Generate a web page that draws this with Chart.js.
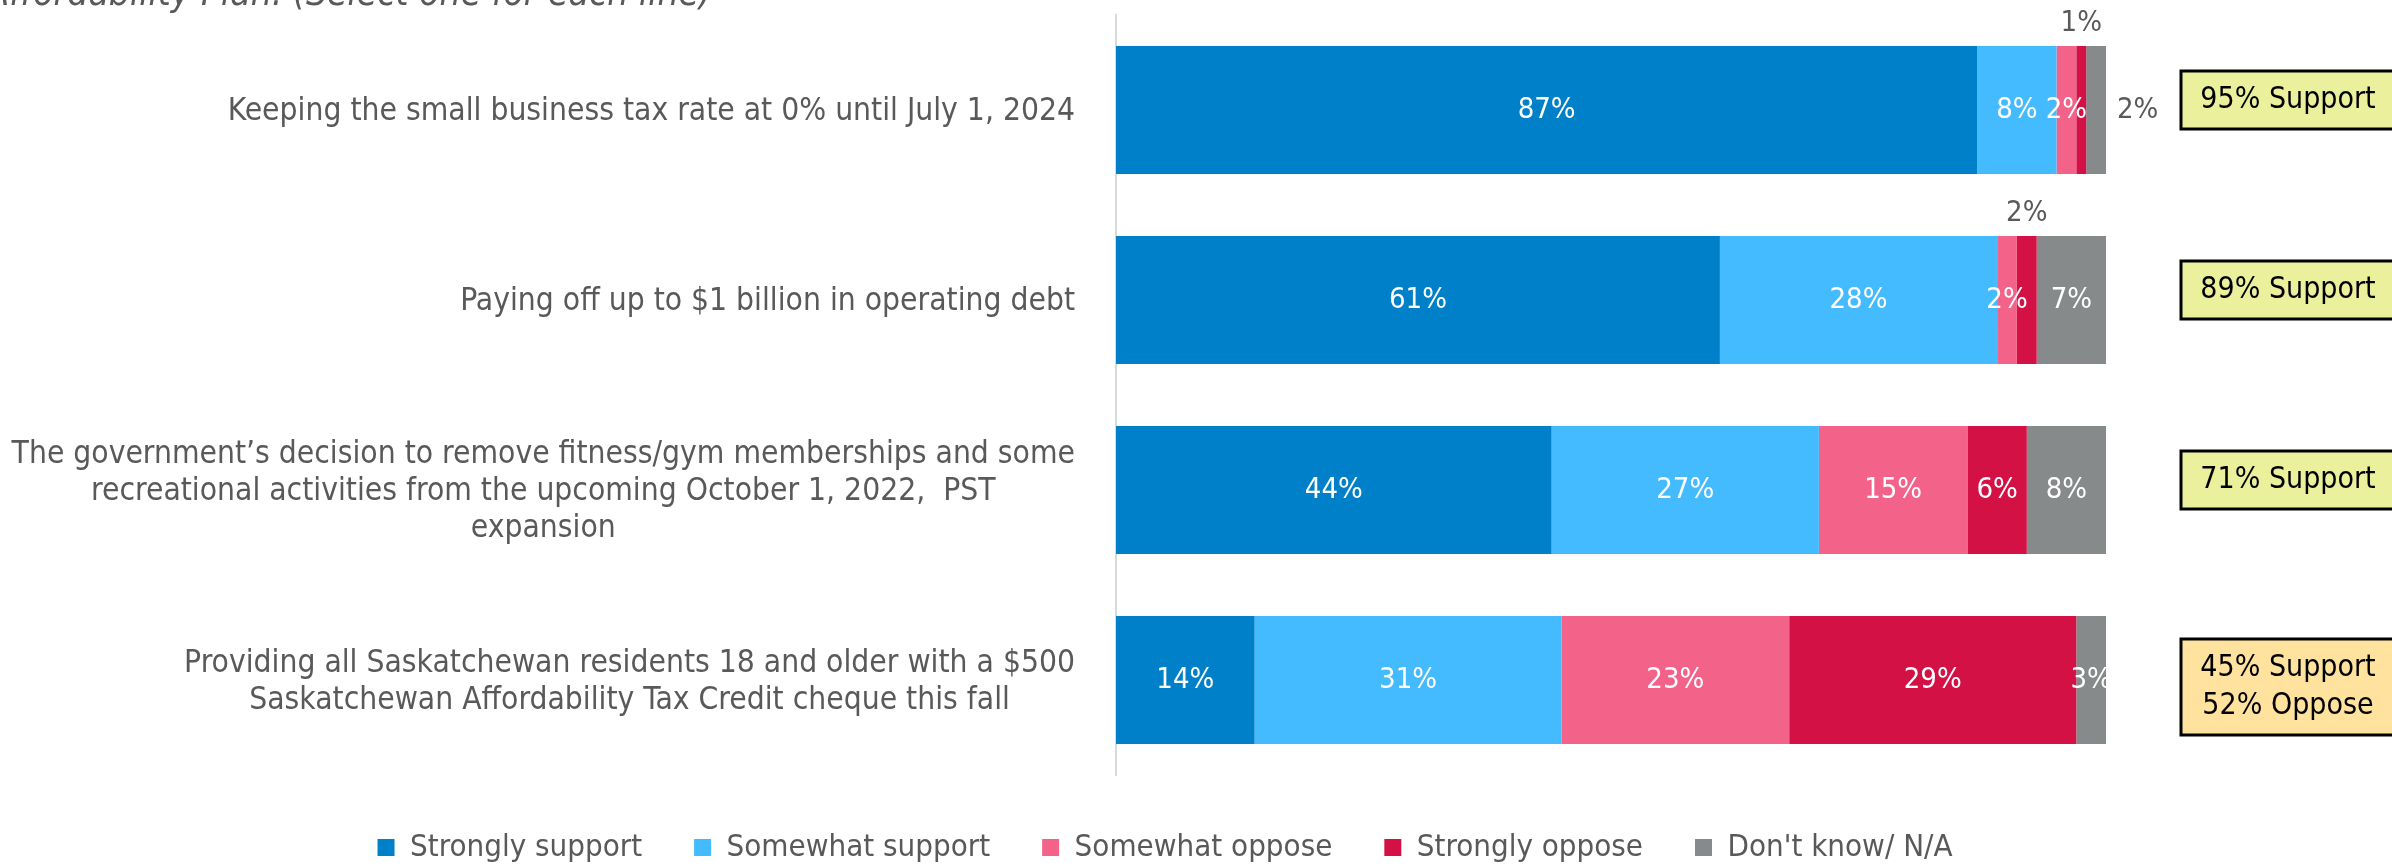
<!DOCTYPE html>
<html lang="en">
<head>
<meta charset="UTF-8">
<title>Affordability Plan | support by measure</title>
<script src="https://cdn.jsdelivr.net/npm/chart.js"></script>
<style>
    html, body { margin: 0; padding: 0; background: #fff; }
    #wrap { width: 2392px; height: 867px; }
</style>
</head>
<body>
<div id="wrap"><canvas id="grafico" width="2392" height="867"></canvas></div>

<script>
    const categorias = [
        ['Keeping the small business tax rate at 0% until July 1, 2024'],
        ['Paying off up to $1 billion in operating debt'],
        ['The government\u2019s decision to remove fitness/gym memberships and some',
         'recreational activities from the upcoming October 1, 2022,  PST',
         'expansion'],
        ['Providing all Saskatchewan residents 18 and older with a $500',
         'Saskatchewan Affordability Tax Credit cheque this fall']
    ];
    const series = ['Strongly support', 'Somewhat support', 'Somewhat oppose', 'Strongly oppose', 'Don\'t know/ N/A'];

    const stronglySupport = [87, 61, 44, 14];
    const somewhatSupport = [8, 28, 27, 31];
    const somewhatOppose = [2, 2, 15, 23];
    const stronglyOppose = [1, 2, 6, 29];
    const dontKnow = [2, 7, 8, 3];

    const resumo = [['95% Support'], ['89% Support'], ['71% Support'], ['45% Support', '52% Oppose']];

    const titulo = 'Affordability Plan. (Select one for each line)';

    const FONTE = "'DejaVu Sans Condensed', 'DejaVu Sans', sans-serif";
    const cinza = '#595959';
    const cores = ['#0080C8', '#45BBFF', '#F36389', '#D31145', '#878A8A'];
    const coresResumo = ['#EAF09C', '#EAF09C', '#EAF09C', '#FEE29E'];

    // where each value label goes: inside the segment, above it, or after the bar
    const posRotulo = [
        ['in', 'in', 'in', 'in'],
        ['in', 'in', 'in', 'in'],
        ['in', 'in', 'in', 'in'],
        ['top', 'top', 'in', 'in'],
        ['right', 'in', 'in', 'in']
    ];

    Chart.defaults.font.family = FONTE;

    const textos = {
        id: 'textos',
        beforeInit(chart) {
            // keep the wide gaps between legend items without the tall box they give
            const leg = chart.legend;
            const fitOriginal = leg.fit;
            leg.fit = function () {
                fitOriginal.call(this);
                this.height = 87;
            };
        },
        afterDatasetsDraw(chart) {
            const ctx = chart.ctx;
            ctx.save();
            ctx.font = '29px ' + FONTE;
            ctx.textBaseline = 'middle';
            chart.data.datasets.forEach((ds, i) => {
                chart.getDatasetMeta(i).data.forEach((barra, j) => {
                    const p = barra.getProps(['x', 'y', 'base', 'height'], true);
                    let tx = (p.x + p.base) / 2;
                    let ty = p.y;
                    ctx.textAlign = 'center';
                    ctx.fillStyle = '#fff';
                    if (posRotulo[i][j] === 'top') {
                        ty = p.y - p.height / 2 - 23;
                        ctx.fillStyle = cinza;
                    } else if (posRotulo[i][j] === 'right') {
                        tx = p.x + 11;
                        ctx.textAlign = 'left';
                        ctx.fillStyle = cinza;
                    }
                    ctx.fillText(ds.data[j] + '%', tx, ty);
                });
            });
            ctx.restore();
        },
        afterDraw(chart) {
            const ctx = chart.ctx;
            const escalaY = chart.scales.y;
            const area = chart.chartArea;
            ctx.save();
            ctx.textBaseline = 'middle';

            // category labels, lines centred inside a right-aligned block
            ctx.font = '31.5px ' + FONTE;
            ctx.fillStyle = cinza;
            ctx.textAlign = 'center';
            categorias.forEach((linhas, i) => {
                const yc = escalaY.getPixelForValue(i);
                const largura = Math.max(...linhas.map(l => ctx.measureText(l).width));
                const xc = area.left - 41 - largura / 2;
                const topo = yc - (linhas.length - 1) * 37 / 2 + 2;
                linhas.forEach((l, k) => ctx.fillText(l, xc, topo + k * 37));
            });

            // summary boxes on the right
            ctx.font = '30px ' + FONTE;
            resumo.forEach((linhas, i) => {
                const yc = escalaY.getPixelForValue(i) - 10 + (linhas.length - 1) * 17;
                const h = 20 + linhas.length * 38;
                const x0 = area.right + 75;
                ctx.fillStyle = coresResumo[i];
                ctx.fillRect(x0, yc - h / 2, 300, h);
                ctx.lineWidth = 3;
                ctx.strokeStyle = '#000';
                ctx.strokeRect(x0, yc - h / 2, 300, h);
                ctx.fillStyle = '#000';
                linhas.forEach((l, k) => {
                    ctx.fillText(l, x0 + 107, yc - (linhas.length - 1) * 19 + k * 38);
                });
            });

            // question text, cut by the top edge as in the original
            ctx.font = 'italic 37px ' + FONTE;
            ctx.fillStyle = cinza;
            ctx.textAlign = 'right';
            ctx.textBaseline = 'alphabetic';
            ctx.fillText(titulo, 712, 5);
            ctx.restore();
        }
    };

    const valores = [stronglySupport, somewhatSupport, somewhatOppose, stronglyOppose, dontKnow];

    const dados = {
        labels: categorias,
        datasets: series.map((nome, i) => ({
            label: nome,
            data: valores[i],
            backgroundColor: cores[i],
            borderWidth: 0,
            barPercentage: 0.674,
            categoryPercentage: 1
        }))
    };

    const config = {
        type: 'bar',
        data: dados,
        options: {
            indexAxis: 'y',
            responsive: false,
            animation: false,
            devicePixelRatio: 1,
            layout: {
                padding: { top: 15, right: 286, bottom: 0, left: 224 }
            },
            plugins: {
                tooltip: { enabled: false },
                legend: {
                    position: 'bottom',
                    labels: {
                        color: cinza,
                        boxWidth: 17,
                        boxHeight: 17,
                        padding: 52,
                        font: { size: 31 }
                    }
                }
            },
            scales: {
                x: {
                    stacked: true,
                    min: 0,
                    max: 100,
                    grid: { display: false },
                    border: { display: false },
                    ticks: { display: false },
                    afterFit(s) { s.height = 5; }
                },
                y: {
                    stacked: true,
                    grid: { display: false },
                    border: { display: true, color: '#D9D9D9', width: 2 },
                    ticks: { display: false },
                    afterFit(s) { s.width = 892; }
                }
            }
        },
        plugins: [textos]
    };

    new Chart(document.getElementById('grafico'), config);
</script>
</body>
</html>
